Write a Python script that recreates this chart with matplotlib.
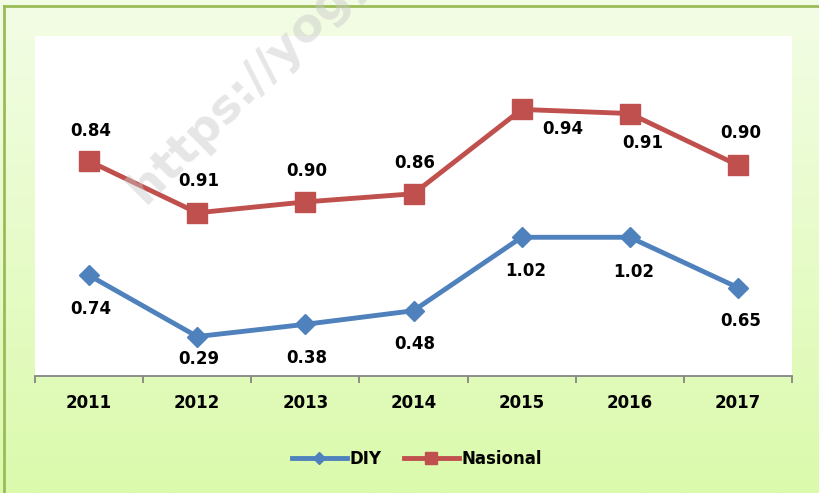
import matplotlib.pyplot as plt
import numpy as np

years = ["2011", "2012", "2013", "2014", "2015", "2016", "2017"]
diy = [0.74, 0.29, 0.38, 0.48, 1.02, 1.02, 0.65]
nasional = [0.84, 0.91, 0.90, 0.86, 0.94, 0.91, 0.90]

# stacked line chart: Nasional is drawn on top of DIY
stacked = np.array(diy) + np.array(nasional)
x = np.arange(len(years))

blue = "#4f81bd"
red = "#c0504d"

fig = plt.figure(figsize=(8.2, 4.93), dpi=100)

# background gradient + border (only top and left edges are visible)
bg = fig.add_axes([0, 0, 1, 1], zorder=-2)
grad = np.linspace(0, 1, 256).reshape(-1, 1)
top = np.array([243, 253, 230]) / 255
bot = np.array([219, 250, 172]) / 255
img = top + (bot - top) * grad[:, :, None]
bg.imshow(img, aspect="auto", extent=[0, 1, 0, 1], origin="upper")
bx, by = 4.5 / 820, 1 - 6 / 493
bg.plot([bx, 1], [by, by], color="#9bbb59", lw=2)
bg.plot([bx, bx], [0, by], color="#9bbb59", lw=2)
bg.set_xlim(0, 1)
bg.set_ylim(0, 1)
bg.axis("off")

ax = fig.add_axes([35 / 820, 1 - 376 / 493, 757 / 820, 340 / 493])
ax.set_facecolor("white")

ax.plot(x, diy, color=blue, lw=3.5, marker="D", ms=10, label="DIY", zorder=3)
ax.plot(x, stacked, color=red, lw=3.5, marker="s", ms=15, label="Nasional", zorder=3)

# label offsets in points
diy_off = [(1, -24), (1, -16), (1, -24), (1, -24), (3, -24), (3, -25), (2, -24)]
nas_off = [(1, 22), (1, 23), (1, 22), (1, 22), (30, -14), (9, -21), (2, 23)]
for i in range(len(years)):
    ax.annotate(f"{diy[i]:.2f}", (x[i], diy[i]), xytext=diy_off[i],
                textcoords="offset points", ha="center", va="center",
                fontsize=12, fontweight="bold")
    ax.annotate(f"{nasional[i]:.2f}", (x[i], stacked[i]), xytext=nas_off[i],
                textcoords="offset points", ha="center", va="center",
                fontsize=12, fontweight="bold")

ax.set_xlim(-0.5, len(years) - 0.5)
ax.set_ylim(0, 2.5)
ax.set_yticks([])
for s in ["top", "right", "left"]:
    ax.spines[s].set_visible(False)
ax.spines["bottom"].set_color("#868686")
ax.spines["bottom"].set_linewidth(1.3)
ax.set_xticks(x)
ax.set_xticklabels(years, fontsize=12, fontweight="bold")
ax.set_xticks(np.arange(-0.5, len(years)), minor=True)
ax.tick_params(axis="x", which="major", length=0, pad=13)
ax.tick_params(axis="x", which="minor", length=5, width=1.3, color="#868686")

fig.legend(loc="center", bbox_to_anchor=(417 / 820, 1 - 459 / 493), ncol=2,
           frameon=False, prop={"weight": "bold", "size": 12},
           handlelength=3.3, handletextpad=0.2, columnspacing=1.3,
           markerscale=0.6)

# watermark, runs off the top edge like in the source image
fig.text(145 / 820, 1 - 205 / 493, "https://yogy",
         rotation=45, rotation_mode="anchor", ha="left", va="baseline",
         fontsize=34, fontweight="bold", color="#c8c8c8", alpha=0.45)

fig.savefig("out.png", dpi=100)
